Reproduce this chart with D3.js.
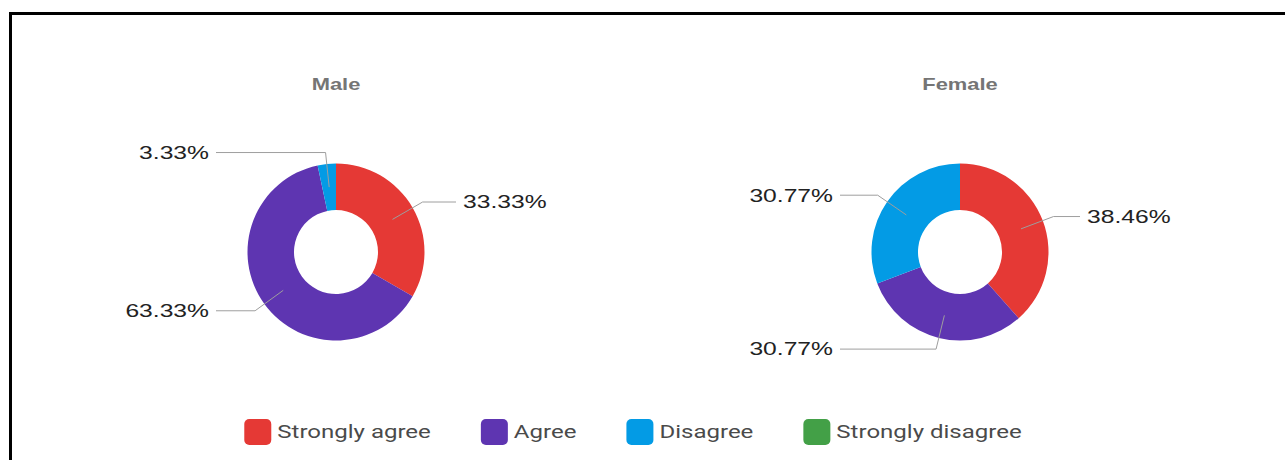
<!DOCTYPE html>
<html>
<head>
<meta charset="utf-8">
<script src="https://cdn.jsdelivr.net/npm/d3@7"></script>
<style>
  html, body { margin: 0; padding: 0; background: #fff; }
</style>
</head>
<body>
<div id="chart"></div>
<script>
// answers per group, in percent
var categories = ["Strongly agree", "Agree", "Disagree", "Strongly disagree"];
var colors = ["#e53935", "#5e35b1", "#039be5", "#43a047"];
var groups = ["Male", "Female"];
var maleValues = [33.33, 63.33, 3.33, 0];
var femaleValues = [38.46, 30.77, 30.77, 0];

var width = 1285, height = 460;
var stretch = 1.37;       // text in the picture is drawn wide
var legendStretch = 1.335;

var svg = d3.select("#chart").append("svg")
    .attr("width", width)
    .attr("height", height);

// frame on top and left
svg.append("path")
    .attr("d", "M10.5," + height + "V13.5H" + width)
    .style("fill", "none")
    .style("stroke", "#000")
    .style("stroke-width", 3);

var color = d3.scaleOrdinal().domain(categories).range(colors);
var x = d3.scalePoint().domain(groups).range([336, 960]);
var cy = 252, rOuter = 88.5, rInner = 42, rElbow = 100, labelGap = 127;

var pie = d3.pie().sort(null).value(function (d) { return d.value; });
var arc = d3.arc().innerRadius(rInner).outerRadius(rOuter);

function stretchedText(sel, tx, ty, k) {
    return sel.attr("transform", "translate(" + tx + "," + ty + ") scale(" + (k || stretch) + ",1)");
}

function drawDonut(name, values) {
    var cx = x(name);
    var data = categories.map(function (c, i) { return { key: c, value: values[i] }; });
    var arcs = pie(data);

    var g = svg.append("g").attr("transform", "translate(" + cx + "," + cy + ")");

    g.selectAll("path.slice")
        .data(arcs)
        .enter().append("path")
        .attr("class", "slice")
        .attr("d", arc)
        .style("fill", function (d) { return color(d.data.key); });

    var shown = arcs.filter(function (d) { return d.data.value > 0; });

    // leader lines: centroid -> elbow -> horizontal towards the label
    g.selectAll("polyline")
        .data(shown)
        .enter().append("polyline")
        .attr("points", function (d) {
            var c = arc.centroid(d);
            var a = (d.startAngle + d.endAngle) / 2;
            var ex = Math.sin(a) * rElbow, ey = -Math.cos(a) * rElbow;
            var side = ex >= 0 ? 1 : -1;
            return [c, [ex, ey], [side * (labelGap - 7), ey]].join(" ");
        })
        .style("fill", "none")
        .style("stroke", "#9e9e9e")
        .style("stroke-width", 1);

    g.selectAll("text.label")
        .data(shown)
        .enter().append("text")
        .attr("class", "label")
        .each(function (d) {
            var a = (d.startAngle + d.endAngle) / 2;
            var ex = Math.sin(a) * rElbow, ey = -Math.cos(a) * rElbow;
            var side = ex >= 0 ? 1 : -1;
            stretchedText(d3.select(this), side * labelGap, ey)
                .attr("text-anchor", side > 0 ? "start" : "end");
        })
        .attr("dy", "0.35em")
        .style("font-family", "'Liberation Sans', Arial, sans-serif")
        .style("font-size", "18px")
        .style("fill", "#222")
        .text(function (d) { return d.data.value.toFixed(2) + "%"; });

    stretchedText(svg.append("text"), cx, 84)
        .attr("text-anchor", "middle")
        .attr("dy", "0.35em")
        .style("font-family", "'Liberation Sans', Arial, sans-serif")
        .style("font-weight", "bold")
        .style("font-size", "16px")
        .style("fill", "#757575")
        .text(name);
}

drawDonut("Male", maleValues);
drawDonut("Female", femaleValues);

// legend
var legend = svg.append("g");
var items = legend.selectAll("g")
    .data(categories)
    .enter().append("g");

items.append("rect")
    .attr("x", 0)
    .attr("y", -13)
    .attr("width", 27)
    .attr("height", 26)
    .attr("rx", 5)
    .style("fill", function (d) { return color(d); });

items.append("text")
    .attr("dy", "0.35em")
    .each(function () { stretchedText(d3.select(this), 33, 0, legendStretch); })
    .style("font-family", "Roboto, sans-serif")
    .style("font-size", "18px")
    .style("fill", "#4a4a4a")
    .text(function (d) { return d; });

var offsets = [], pos = 0;
items.each(function () {
    offsets.push(pos);
    pos += 33 + this.querySelector("text").getComputedTextLength() * legendStretch + 50;
});
var total = pos - 50;
var startX = 633 - total / 2;
items.attr("transform", function (d, i) { return "translate(" + (startX + offsets[i]) + ",432)"; });
</script>
</body>
</html>
